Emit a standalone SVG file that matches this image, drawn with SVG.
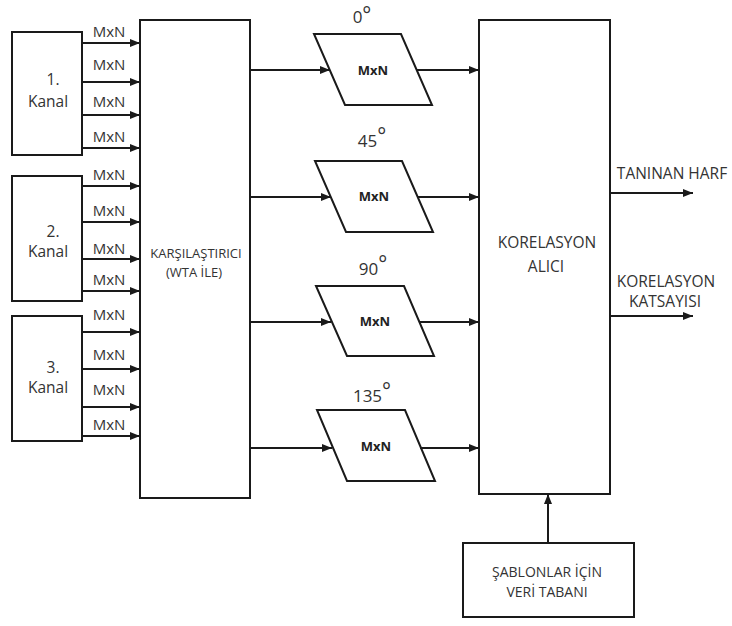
<svg xmlns="http://www.w3.org/2000/svg" width="732" height="626" viewBox="0 0 732 626">
<style>
.box{fill:#fff;stroke:#1a1a1a;stroke-width:2}
.ln{stroke:#1a1a1a;stroke-width:2;fill:none;marker-end:url(#ah)}
.t{font-family:"Open Sans","Liberation Sans",sans-serif;fill:#333;text-anchor:middle}
.lbl{font-size:15px}
.db{font-size:14px}
.big{font-size:15.5px}
.mid{font-size:13px}
.bold{font-size:13px;font-weight:bold;fill:#222}
.deg{font-size:17px}
.sup{font-size:21px}
</style>
<defs>
<marker id="ah" markerUnits="userSpaceOnUse" markerWidth="10" markerHeight="8" refX="10" refY="4" orient="auto">
<path d="M0,0 L10,4 L0,8 z" fill="#1a1a1a"/>
</marker>
</defs>
<rect width="732" height="626" fill="#fff"/>

<g id="kanal1">
<rect class="box" x="12" y="32" width="70" height="123"/>
<text class="t big" x="53" y="85">1.</text>
<text class="t big" x="48" y="107">Kanal</text>
</g>
<g id="kanal2">
<rect class="box" x="12" y="176" width="70" height="125"/>
<text class="t big" x="53" y="237">2.</text>
<text class="t big" x="48" y="257">Kanal</text>
</g>
<g id="kanal3">
<rect class="box" x="12" y="316" width="70" height="125"/>
<text class="t big" x="53" y="373">3.</text>
<text class="t big" x="48" y="393">Kanal</text>
</g>

<g id="karsilastirici">
<rect class="box" x="140" y="20" width="110" height="478"/>
<text class="t mid" x="196" y="258">KARŞILAŞTIRICI</text>
<text class="t mid" x="194" y="277">(WTA İLE)</text>
</g>

<g id="p0">
<text class="t deg" x="362" y="23">0<tspan class="sup" dy="-1">°</tspan></text>
<polygon class="box" points="314,34 401,34 432,105 345,105"/>
<text class="t bold" x="373" y="75">MxN</text>
</g>
<g id="p45">
<text class="t deg" x="372" y="147">45<tspan class="sup" dy="-4">°</tspan></text>
<polygon class="box" points="315,161 402,161 433,232 346,232"/>
<text class="t bold" x="374" y="201">MxN</text>
</g>
<g id="p90">
<text class="t deg" x="373" y="275">90<tspan class="sup" dy="-4">°</tspan></text>
<polygon class="box" points="316,286 404,286 434,356 347,356"/>
<text class="t bold" x="375" y="326">MxN</text>
</g>
<g id="p135">
<text class="t deg" x="372" y="402">135<tspan class="sup" dy="-4">°</tspan></text>
<polygon class="box" points="317,410 405,410 435,481 347,481"/>
<text class="t bold" x="376" y="451">MxN</text>
</g>

<g id="korelasyon">
<rect class="box" x="479" y="20" width="131" height="474"/>
<text class="t big" x="547" y="248">KORELASYON</text>
<text class="t big" x="546" y="272">ALICI</text>
</g>

<g id="veritabani">
<rect class="box" x="463" y="543" width="171" height="74"/>
<text class="t db" x="547" y="577">ŞABLONLAR İÇİN</text>
<text class="t db" x="547" y="597">VERİ TABANI</text>
</g>

<g id="etiketler">
<text class="t lbl" x="109" y="37">MxN</text>
<text class="t lbl" x="109" y="70">MxN</text>
<text class="t lbl" x="109" y="107">MxN</text>
<text class="t lbl" x="109" y="142">MxN</text>
<text class="t lbl" x="109" y="180">MxN</text>
<text class="t lbl" x="109" y="216">MxN</text>
<text class="t lbl" x="109" y="254">MxN</text>
<text class="t lbl" x="109" y="285">MxN</text>
<text class="t lbl" x="109" y="320">MxN</text>
<text class="t lbl" x="109" y="360">MxN</text>
<text class="t lbl" x="109" y="395">MxN</text>
<text class="t lbl" x="109" y="430">MxN</text>
<text class="t big" x="672" y="179">TANINAN HARF</text>
<text class="t big" x="666" y="287">KORELASYON</text>
<text class="t big" x="665" y="307">KATSAYISI</text>
</g>

<g id="baglantilar">
<line class="ln" x1="82" y1="43" x2="140" y2="43"/>
<line class="ln" x1="82" y1="82" x2="140" y2="82"/>
<line class="ln" x1="82" y1="115" x2="140" y2="115"/>
<line class="ln" x1="82" y1="148" x2="140" y2="148"/>
<line class="ln" x1="82" y1="186" x2="140" y2="186"/>
<line class="ln" x1="82" y1="222" x2="140" y2="222"/>
<line class="ln" x1="82" y1="259" x2="140" y2="259"/>
<line class="ln" x1="82" y1="291" x2="140" y2="291"/>
<line class="ln" x1="82" y1="332" x2="140" y2="332"/>
<line class="ln" x1="82" y1="369" x2="140" y2="369"/>
<line class="ln" x1="82" y1="407" x2="140" y2="407"/>
<line class="ln" x1="82" y1="436" x2="140" y2="436"/>
<line class="ln" x1="250" y1="70" x2="330" y2="70"/>
<line class="ln" x1="250" y1="197" x2="331" y2="197"/>
<line class="ln" x1="250" y1="322" x2="331" y2="322"/>
<line class="ln" x1="250" y1="448" x2="332" y2="448"/>
<line class="ln" x1="417" y1="70" x2="479" y2="70"/>
<line class="ln" x1="418" y1="197" x2="479" y2="197"/>
<line class="ln" x1="419" y1="322" x2="479" y2="322"/>
<line class="ln" x1="420" y1="448" x2="479" y2="448"/>
<line class="ln" x1="610" y1="193" x2="693" y2="193"/>
<line class="ln" x1="610" y1="316" x2="693" y2="316"/>
<line class="ln" x1="548" y1="543" x2="548" y2="494"/>
</g>
</svg>
